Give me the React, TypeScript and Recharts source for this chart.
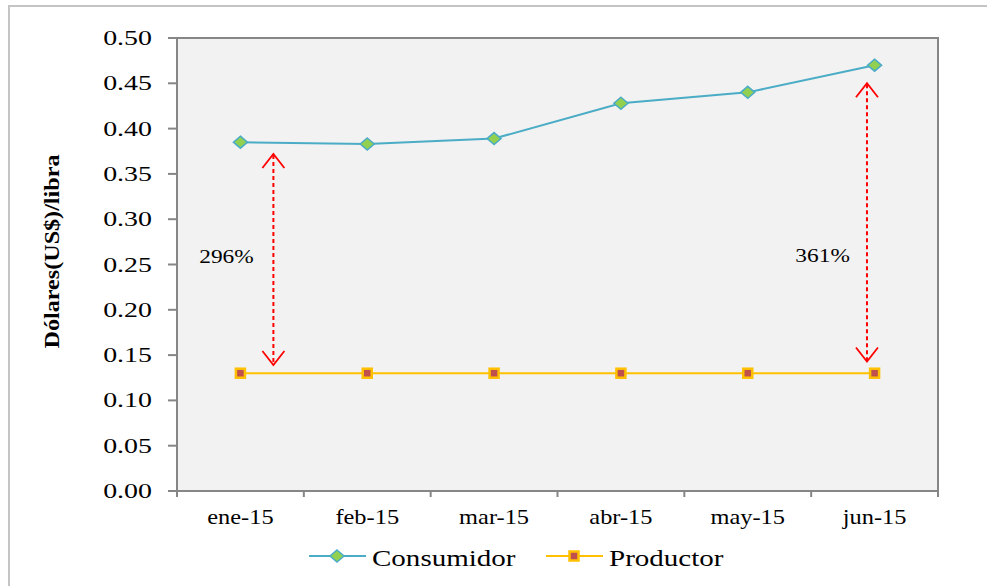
import { LineChart, Line, XAxis, YAxis, ReferenceArea, ReferenceLine, ReferenceDot } from 'recharts'

const months = ['ene-15', 'feb-15', 'mar-15', 'abr-15', 'may-15', 'jun-15']
const consumidor = [0.385, 0.383, 0.389, 0.428, 0.44, 0.47]
const productor = [0.13, 0.13, 0.13, 0.13, 0.13, 0.13]
const yTicks = [0, 0.05, 0.1, 0.15, 0.2, 0.25, 0.3, 0.35, 0.4, 0.45, 0.5]
const bandTicks = [0, 1, 2, 3, 4, 5, 6]

// gap annotations (x on the 0..6 band scale)
const gapLabels = ['296%', '361%']
const gapX = [0.76, 5.44]
const gapTop = [0.372, 0.45]
const gapBottom = [0.139, 0.143]
const gapLabelX = [0.39, 5.09]
const gapLabelY = [0.258, 0.259]

// each month sits in the middle of its band
const data = months.map((m, i) => ({ pos: i + 0.5, month: m, consumidor: consumidor[i], productor: productor[i] }))
const xTicks = [...bandTicks, ...data.map(d => d.pos)].sort((a, b) => a - b)

const AXIS = '#868686'
const SERIF = '"Liberation Serif", "Times New Roman", serif'
const BLUE = '#4bacc6'
const GREEN = '#92d050'
const GOLD = '#ffc000'
const BRICK = '#c0504d'

const Diamond = ({ cx, cy }: any) => (
    <path d={`M${cx},${cy - 6} L${cx + 7},${cy} L${cx},${cy + 6} L${cx - 7},${cy} Z`} fill={GREEN} stroke={BLUE} strokeWidth={1.5} />
)

const Square = ({ cx, cy }: any) => (
    <rect x={cx - 4.5} y={cy - 4.5} width={9} height={9} fill={BRICK} stroke={GOLD} strokeWidth={2.5} />
)

const YTick = ({ x, y, payload }: any) => (
    <text transform={`translate(${x},${y + 7}) scale(1.33,1)`} textAnchor="end" fontFamily={SERIF} fontSize={21} fill="#000">
        {Number(payload.value).toFixed(2)}
    </text>
)

// integer ticks = band edges (tick mark only), half ticks = month labels
const BandTick = ({ x, y, payload }: any) => {
    const v = payload.value
    if (Number.isInteger(v)) {
        return <line x1={x} y1={y} x2={x} y2={y + 6} stroke={AXIS} strokeWidth={2} />
    }
    const label = data.find(d => d.pos === v)?.month ?? ''
    return (
        <text transform={`translate(${x},${y + 33}) scale(1.22,1)`} textAnchor="middle" fontFamily={SERIF} fontSize={20} fill="#000">
            {label}
        </text>
    )
}

const DoubleArrow = ({ x1, y1, x2, y2 }: any) => {
    const top = Math.min(y1, y2)
    const bot = Math.max(y1, y2)
    return (
        <g>
            <line x1={x1} y1={top + 1} x2={x2} y2={bot - 1} stroke="#ff0000" strokeWidth={2} strokeDasharray="4 3" />
            <polyline points={`${x1 - 11},${top + 14} ${x1},${top} ${x1 + 11},${top + 14}`} fill="none" stroke="#ff0000" strokeWidth={1.8} />
            <polyline points={`${x1 - 11},${bot - 14} ${x1},${bot} ${x1 + 11},${bot - 14}`} fill="none" stroke="#ff0000" strokeWidth={1.8} />
        </g>
    )
}

const legendItems = [
    { name: 'Consumidor', color: BLUE, marker: 'diamond' },
    { name: 'Productor', color: GOLD, marker: 'square' },
]

const LegendBox = () => (
    <svg width={987} height={44} style={{ position: 'absolute', left: 0, top: 536 }}>
        {legendItems.map((it, i) => {
            const x0 = 309 + i * 237
            return (
                <g key={it.name} transform={`translate(${x0},0)`}>
                    <line x1={0} y1={20} x2={57} y2={20} stroke={it.color} strokeWidth={2} />
                    {it.marker === 'diamond' ? <Diamond cx={28} cy={20} /> : <Square cx={28} cy={20} />}
                    <text transform="translate(63,30) scale(1.21,1)" fontFamily={SERIF} fontSize={24} fill="#000">
                        {it.name}
                    </text>
                </g>
            )
        })}
    </svg>
)

export default function App() {
    return (
        <div style={{ position: 'absolute', left: 0, top: 0, width: 987, height: 586, overflow: 'hidden', background: '#fff' }}>
            <div style={{ position: 'absolute', left: 8, top: 5, width: 1000, height: 600, borderTop: '2px solid #c4c4c4', borderLeft: '2px solid #c4c4c4' }} />
            <div style={{ position: 'absolute', left: 0, top: 0 }}>
                <LineChart width={987} height={586} data={data} margin={{ top: 38, right: 49, bottom: 55, left: 0 }}>
                    <XAxis
                        dataKey="pos"
                        type="number"
                        domain={[0, 6]}
                        allowDataOverflow
                        ticks={xTicks}
                        interval={0}
                        height={40}
                        axisLine={{ stroke: AXIS, strokeWidth: 2 }}
                        tickLine={false}
                        tickSize={0}
                        tickMargin={0}
                        tick={<BandTick />}
                    />
                    <YAxis
                        width={177}
                        domain={[0, 0.5]}
                        ticks={yTicks}
                        interval={0}
                        axisLine={{ stroke: AXIS, strokeWidth: 2 }}
                        tickLine={{ stroke: AXIS, strokeWidth: 2 }}
                        tickSize={9}
                        tickMargin={16}
                        tick={<YTick />}
                        label={{
                            content: ({ viewBox }: any) => (
                                <text
                                    transform={`translate(${viewBox.x + 59},${viewBox.y + viewBox.height / 2 - 13}) rotate(-90) scale(1.15,1)`}
                                    textAnchor="middle"
                                    fontFamily={SERIF}
                                    fontWeight="bold"
                                    fontSize={21}
                                    fill="#000"
                                >
                                    Dólares(US$)/libra
                                </text>
                            ),
                        }}
                    />
                    <ReferenceArea x1={0} x2={6} y1={0} y2={0.5} fill="#f2f2f2" fillOpacity={1} stroke={AXIS} strokeWidth={2} />
                    {gapLabels.map((l, i) => (
                        <ReferenceLine
                            key={l}
                            segment={[{ x: gapX[i], y: gapTop[i] }, { x: gapX[i], y: gapBottom[i] }]}
                            shape={<DoubleArrow />}
                        />
                    ))}
                    {gapLabels.map((l, i) => (
                        <ReferenceDot
                            key={'t' + l}
                            x={gapLabelX[i]}
                            y={gapLabelY[i]}
                            r={0}
                            shape={(p: any) => (
                                <text transform={`translate(${p.cx},${p.cy + 6}) scale(1.3,1)`} textAnchor="middle" fontFamily={SERIF} fontSize={18} fill="#000">
                                    {l}
                                </text>
                            )}
                        />
                    ))}
                    <Line type="linear" dataKey="productor" stroke={GOLD} strokeWidth={2} dot={<Square />} activeDot={false} isAnimationActive={false} />
                    <Line type="linear" dataKey="consumidor" stroke={BLUE} strokeWidth={2} dot={<Diamond />} activeDot={false} isAnimationActive={false} />
                </LineChart>
            </div>
            <LegendBox />
        </div>
    )
}
